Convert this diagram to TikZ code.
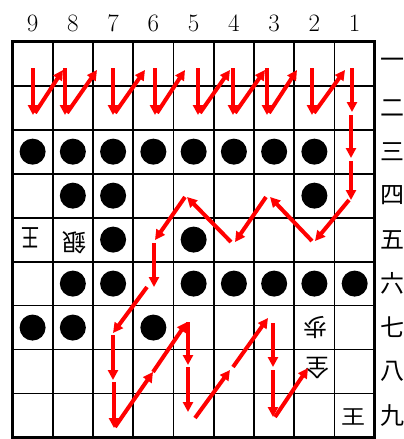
\documentclass[tikz,border=0pt]{standalone}
\usepackage{fontspec}
\newfontfamily\jp{Noto Sans CJK JP}
\usetikzlibrary{arrows.meta}
\begin{document}
\begin{tikzpicture}[x=1pt,y=-1pt,
  gridline/.style={line width=1.8pt, black},
  frame/.style={line width=3.3pt},
  stone/.style={fill=black, draw=none},
  mv/.style={red, line width=4pt, -{Triangle[length=10pt,width=10pt]}},
  coln/.style={font=\fontsize{25}{25}\selectfont, inner sep=0pt},
  rown/.style={font=\jp\fontsize{24}{24}\selectfont, inner sep=0pt},
  piece/.style={font=\jp\fontsize{24}{24}\selectfont, inner sep=0pt},
  gote/.style={piece, rotate=180}]
\useasboundingbox (0,0) rectangle (404,439);
% grid
\foreach \i in {1,...,8}{
  \draw[gridline] ({12.5+40.26*\i},41.7) -- ({12.5+40.26*\i},437.5);
  \draw[gridline] (12.5,{41.7+43.98*\i}) -- (374.8,{41.7+43.98*\i});
}
\draw[frame] (12.5,41.7) rectangle (374.8,437.5);
% column numbers
\foreach \c in {1,...,9}{
  \node[coln] (c\c) at ({374.8-40.26*(\c-0.5)},23) {\c};
}
% row labels
\foreach \r/\k in {1/一,2/二,3/三,4/四,5/五,6/六,7/七,8/八,9/九}{
  \node[rown] (r\r) at (392,{41.7+43.98*(\r-0.5)}) {\k};
}
% stones
\foreach \c/\r in {9/3,8/3,7/3,6/3,5/3,4/3,3/3,2/3,
                   8/4,7/4,2/4,
                   7/5,5/5,
                   8/6,7/6,5/6,4/6,3/6,2/6,1/6,
                   9/7,8/7,6/7}{
  \fill[stone] ({374.8-40.26*(\c-0.5)},{41.7+43.98*(\r-0.5)}) circle (13);
}
% pieces
\node[gote, xscale=0.75, yscale=1.05] (ou95) at (30,238) {王};
\node[gote] (gin85) at (74,243) {銀};
\node[gote] (fu27) at (315,328) {歩};
\node[gote] (zen28) at (317,368) {全};
\node[piece, yscale=0.85] (ou19) at (353,417) {王};
% moves
\foreach \a/\b/\c/\d in {
  33/68/33/115, 35/113/63/70,
  65/68/65/115, 67/113/97/70,
  113/68/113/115, 115/113/145/70,
  155/68/155/115, 157/113/185/70,
  198/68/198/115, 200/113/230/70,
  233/68/233/115, 235/113/265/70,
  267/68/267/115, 269/113/297/70,
  312/68/312/115, 314/113/345/70,
  352/68/352/112, 351/115/351/158, 351/161/351/200,
  349/200/315/241, 312/241/270/197, 266/197/235/242,
  231/242/187/197, 185/197/155/240, 154/243/154/287,
  147/287/113/333, 113/335/113/380, 114/382/114/428,
  115/427/153/372, 153/372/187/322, 188/322/188/365,
  188/367/188/412, 195/418/230/370, 233/367/268/318,
  273/323/273/367, 273/370/273/417, 275/417/308/368}{
  \draw[mv] (\a,\b) -- (\c,\d);
}
\end{tikzpicture}
\end{document}
